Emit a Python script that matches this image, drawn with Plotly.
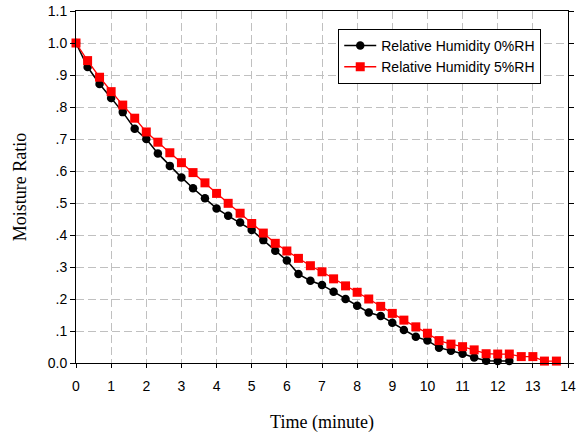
import plotly.graph_objects as go

# Drying time in minutes (20 s sampling)
time_0rh = [0, 0.33, 0.67, 1, 1.33, 1.67, 2, 2.33, 2.67, 3, 3.33, 3.67, 4, 4.33, 4.67,
            5, 5.33, 5.67, 6, 6.33, 6.67, 7, 7.33, 7.67, 8, 8.33, 8.67, 9, 9.33, 9.67,
            10, 10.33, 10.67, 11, 11.33, 11.67, 12, 12.33]
mr_0rh = [1.0, 0.925, 0.872, 0.828, 0.784, 0.732, 0.700, 0.655, 0.616, 0.580, 0.546,
          0.515, 0.483, 0.460, 0.439, 0.416, 0.384, 0.351, 0.320, 0.278, 0.257, 0.244,
          0.223, 0.200, 0.179, 0.158, 0.147, 0.126, 0.103, 0.082, 0.070, 0.048, 0.038,
          0.029, 0.017, 0.007, 0.006, 0.006]

time_5rh = [0, 0.33, 0.67, 1, 1.33, 1.67, 2, 2.33, 2.67, 3, 3.33, 3.67, 4, 4.33, 4.67,
            5, 5.33, 5.67, 6, 6.33, 6.67, 7, 7.33, 7.67, 8, 8.33, 8.67, 9, 9.33, 9.67,
            10, 10.33, 10.67, 11, 11.33, 11.67, 12, 12.33, 12.67, 13, 13.33, 13.67]
mr_5rh = [1.0, 0.945, 0.893, 0.848, 0.806, 0.765, 0.722, 0.690, 0.657, 0.626, 0.595,
          0.563, 0.530, 0.499, 0.468, 0.436, 0.406, 0.374, 0.350, 0.327, 0.304, 0.285,
          0.263, 0.241, 0.221, 0.200, 0.177, 0.155, 0.134, 0.113, 0.093, 0.070, 0.059,
          0.051, 0.041, 0.029, 0.028, 0.028, 0.020, 0.020, 0.006, 0.006]

x_ticks = list(range(0, 15))
y_tickvals = [0.0, 0.1, 0.2, 0.3, 0.4, 0.5, 0.6, 0.7, 0.8, 0.9, 1.0, 1.1]
y_ticktext = ["0.0", ".1", ".2", ".3", ".4", ".5", ".6", ".7", ".8", ".9", "1.0", "1.1"]

SANS = "Arial, Liberation Sans, sans-serif"
SERIF = "Times New Roman, Liberation Serif, serif"

fig = go.Figure()
fig.add_trace(go.Scatter(
    x=time_0rh, y=mr_0rh, mode="lines+markers", name="Relative Humidity 0%RH",
    line=dict(color="black", width=1.5),
    marker=dict(symbol="circle", size=8.5, color="black"),
    cliponaxis=False,
))
fig.add_trace(go.Scatter(
    x=time_5rh, y=mr_5rh, mode="lines+markers", name="Relative Humidity 5%RH",
    line=dict(color="#ff0000", width=1.3),
    marker=dict(symbol="square", size=9, color="#ff0000"),
    cliponaxis=False,
))

grid = dict(showgrid=True, gridcolor="#c0c0c0", griddash="8px,4px", gridwidth=1)

fig.update_layout(
    width=586, height=433,
    margin=dict(l=76, r=18, t=11, b=70),
    paper_bgcolor="white", plot_bgcolor="white",
    font=dict(family=SANS, size=14, color="black"),
    showlegend=True,
    legend=dict(
        x=0.533, y=0.949, xanchor="left", yanchor="top",
        bordercolor="black", borderwidth=1, bgcolor="white",
        font=dict(family=SANS, size=14),
        itemwidth=32, tracegroupgap=0,
    ),
    xaxis=dict(
        range=[0, 14], tickvals=x_ticks, ticks="outside", ticklen=4, tickcolor="black",
        showline=True, linecolor="black", linewidth=1, mirror=True, zeroline=False,
        ticklabelstandoff=6, automargin=False,
        title=dict(text="Time (minute)", font=dict(family=SERIF, size=18), standoff=24),
        tickfont=dict(family=SANS, size=14),
        **grid,
    ),
    yaxis=dict(
        range=[0, 1.1], tickvals=y_tickvals, ticktext=y_ticktext, ticks="outside", ticklen=5,
        tickcolor="black", showline=True, linecolor="black", linewidth=1, mirror="ticks",
        zeroline=False, automargin=False,
        title=dict(text="Moisture Ratio", font=dict(family=SERIF, size=18), standoff=16),
        tickfont=dict(family=SANS, size=14),
        **grid,
    ),
)

fig.write_html("out.html")
